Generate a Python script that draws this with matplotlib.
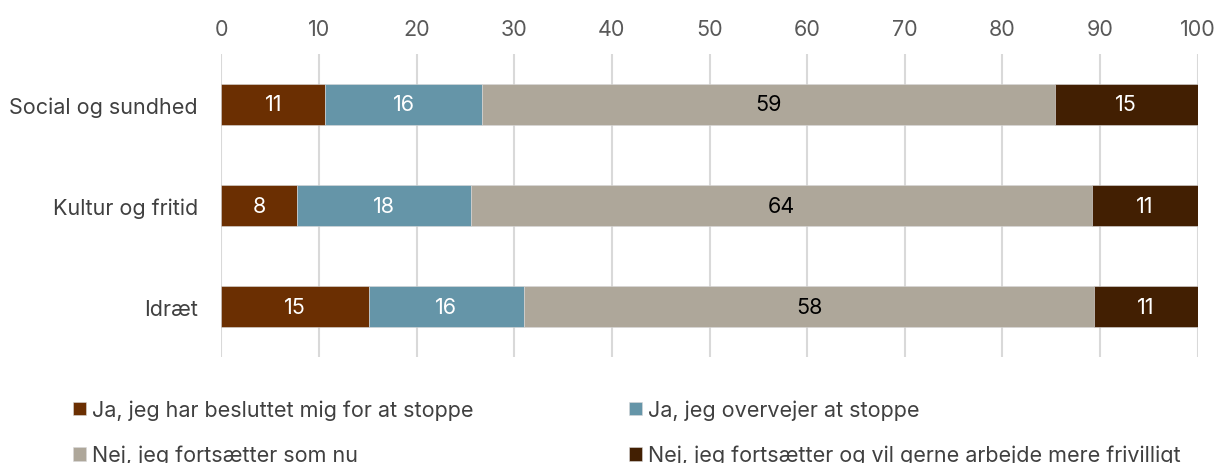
import matplotlib.pyplot as plt
import numpy as np

# Data
categories = ["Social og sundhed", "Kultur og fritid", "Idræt"]
series_names = ["Ja, jeg har besluttet mig for at stoppe",
                "Ja, jeg overvejer at stoppe",
                "Nej, jeg fortsætter som nu",
                "Nej, jeg fortsætter og vil gerne arbejde mere frivilligt"]
beslut = [10.6, 7.7, 15.1]
overvej = [16.1, 17.9, 15.9]
som_nu = [58.7, 63.6, 58.4]
mere = [14.6, 10.8, 10.6]
ticks = [0, 10, 20, 30, 40, 50, 60, 70, 80, 90, 100]

colors = ["#6B2F02", "#6595A8", "#AEA79A", "#421F02"]
text_colors = ["white", "white", "black", "white"]

plt.rcParams['font.family'] = ['Inter', 'DejaVu Sans']
fs = 15.5

fig = plt.figure(figsize=(12.19, 4.64), dpi=100)
ax = fig.add_axes([0.1817, 0.2284, 0.8007, 0.6531])

data = [beslut, overvej, som_nu, mere]
y = np.arange(len(categories))
left = np.zeros(len(categories))
handles = []
for vals, col, tc, name in zip(data, colors, text_colors, series_names):
    vals = np.array(vals)
    bars = ax.barh(y, vals, left=left, height=0.4, color=col,
                   edgecolor="#d9d9d9", linewidth=0.4, label=name, zorder=3)
    handles.append(bars)
    for xi, v, yi in zip(left, vals, y):
        ax.text(xi + v / 2, yi, f"{v:.0f}", ha="center", va="center",
                color=tc, fontsize=fs, zorder=4)
    left = left + vals

ax.set_xlim(0, 100)
ax.set_ylim(2.5, -0.5)
ax.set_yticks(y)
ax.set_yticklabels(categories, fontsize=fs, color="#404040")
ax.set_xticks(ticks)
ax.xaxis.tick_top()
ax.tick_params(axis="x", labelsize=fs, labelcolor="#595959", length=0, pad=11)
ax.tick_params(axis="y", length=0, pad=17)
ax.grid(axis="x", color="#d9d9d9", linewidth=1.5, zorder=0)
for s in ax.spines.values():
    s.set_visible(False)

leg_kw = dict(frameon=False, fontsize=fs, handlelength=0.6, handleheight=0.6,
              handletextpad=0.25, labelspacing=1.15, borderpad=0, labelcolor="#404040")
leg1 = fig.legend([handles[0], handles[2]], [series_names[0], series_names[2]],
                  loc="upper left", bbox_to_anchor=(0.0514, 0.16), **leg_kw)
leg2 = fig.legend([handles[1], handles[3]], [series_names[1], series_names[3]],
                  loc="upper left", bbox_to_anchor=(0.5074, 0.16), **leg_kw)

fig.savefig("out.png", dpi=100)
